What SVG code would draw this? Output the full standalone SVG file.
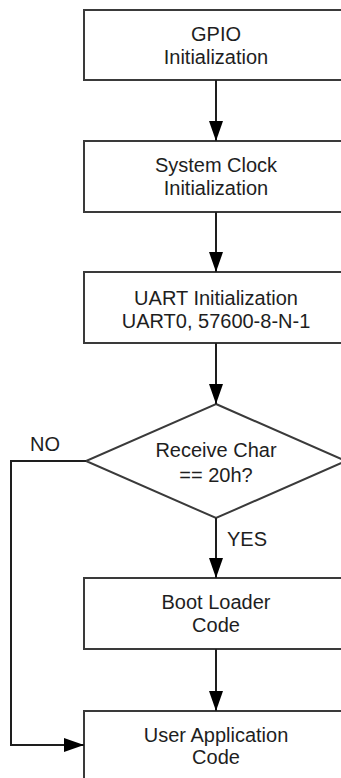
<svg xmlns="http://www.w3.org/2000/svg" width="341" height="778" viewBox="0 0 341 778">
  <style>
    .box { fill: #ffffff; stroke: #3a3a3a; stroke-width: 2; }
    .line { fill: none; stroke: #1e1e1e; stroke-width: 2; }
    text { font-family: "Liberation Sans", Arial, sans-serif; font-size: 20px; fill: #1e1e1e; text-anchor: middle; }
    .lbl { text-anchor: start; }
  </style>
  <defs>
    <marker id="arrow" markerUnits="userSpaceOnUse" markerWidth="20" markerHeight="14" refX="20" refY="7" orient="auto">
      <path d="M0,0 L20,7 L0,14 Z" fill="#000000"/>
    </marker>
  </defs>
  <rect width="341" height="778" fill="#ffffff"/>

  <g id="gpio-init">
    <rect class="box" x="84" y="10" width="264" height="70"/>
    <text x="216" y="41">GPIO</text>
    <text x="216" y="64">Initialization</text>
  </g>

  <g id="clock-init">
    <rect class="box" x="84" y="141" width="264" height="71"/>
    <text x="216" y="171.5">System Clock</text>
    <text x="216" y="194.5">Initialization</text>
  </g>

  <g id="uart-init">
    <rect class="box" x="84" y="272" width="264" height="71"/>
    <text x="216" y="305">UART Initialization</text>
    <text x="216" y="328">UART0, 57600-8-N-1</text>
  </g>

  <g id="receive-check">
    <polygon class="box" points="216,404 346,461 216,518 86,461"/>
    <text x="216" y="456.5">Receive Char</text>
    <text x="216" y="481.5">== 20h?</text>
  </g>

  <g id="boot-loader">
    <rect class="box" x="84" y="578" width="264" height="71"/>
    <text x="216" y="609">Boot Loader</text>
    <text x="216" y="632">Code</text>
  </g>

  <g id="user-app">
    <rect class="box" x="84" y="711" width="264" height="71"/>
    <text x="216" y="741.5">User Application</text>
    <text x="216" y="764">Code</text>
  </g>

  <g id="connectors">
    <line class="line" x1="216" y1="80" x2="216" y2="141" marker-end="url(#arrow)"/>
    <line class="line" x1="216" y1="212" x2="216" y2="272" marker-end="url(#arrow)"/>
    <line class="line" x1="216" y1="343" x2="216" y2="404" marker-end="url(#arrow)"/>
    <line class="line" x1="216" y1="518" x2="216" y2="578" marker-end="url(#arrow)"/>
    <line class="line" x1="216" y1="649" x2="216" y2="711" marker-end="url(#arrow)"/>
    <polyline class="line" points="86,461 11,461 11,745 84,745" marker-end="url(#arrow)"/>
    <text class="lbl" x="30" y="450.5">NO</text>
    <text class="lbl" x="227" y="545.5">YES</text>
  </g>
</svg>
